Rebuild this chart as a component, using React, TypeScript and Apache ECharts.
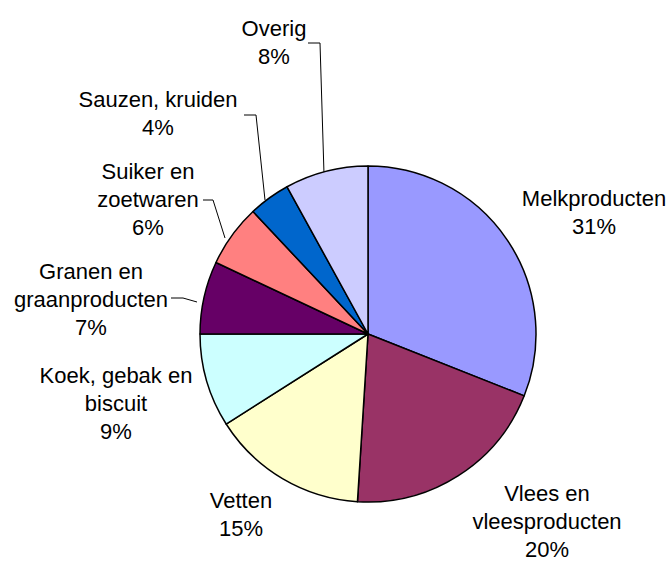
import React, { useEffect, useRef } from "react";
import * as echarts from "echarts";

const categories = [
  "Melkproducten",
  "Vlees en\nvleesproducten",
  "Vetten",
  "Koek, gebak en\nbiscuit",
  "Granen en\ngraanproducten",
  "Suiker en\nzoetwaren",
  "Sauzen, kruiden",
  "Overig",
];
const values = [31, 20, 15, 9, 7, 6, 4, 8];
const colors = ["#9999FF", "#993366", "#FFFFCC", "#CCFFFF", "#660066", "#FF8080", "#0066CC", "#CCCCFF"];

// label block centres and leader lines (layout only)
const labelPos: [number, number][] = [
  [594, 212],
  [547, 521],
  [241, 514],
  [116, 403],
  [91, 299],
  [148, 199],
  [158, 113],
  [274, 42],
];
const leaderLines: (number[][] | null)[] = [
  null,
  null,
  null,
  null,
  [[197, 302], [183, 298], [171, 298]],
  [[225, 238], [213, 200], [203, 200]],
  [[265, 200], [256, 115], [244, 115]],
  [[324, 174], [320, 43], [308, 43]],
];

export default function App() {
  const ref = useRef<HTMLDivElement>(null);
  useEffect(() => {
    document.body.style.margin = "0";
    const chart = echarts.init(ref.current!, null, { renderer: "svg" });
    chart.setOption({
      animation: false,
      backgroundColor: "#ffffff",
      series: [
        {
          type: "pie",
          center: [368, 334],
          radius: 168,
          startAngle: 90,
          clockwise: true,
          percentPrecision: 0,
          itemStyle: { borderColor: "#000", borderWidth: 1.5 },
          emphasis: { disabled: true },
          label: {
            show: true,
            formatter: "{b}\n{d}%",
            fontFamily: "Liberation Sans, Arial, sans-serif",
            fontSize: 22,
            lineHeight: 28,
            color: "#000",
            align: "center",
            overflow: "none",
          },
          labelLine: { show: true, lineStyle: { color: "#000", width: 1 } },
          labelLayout: (params: any) => {
            const i = params.dataIndex;
            const p = labelPos[i];
            const res: any = {
              x: p[0],
              y: p[1],
              align: "center",
              verticalAlign: "middle",
            };
            if (leaderLines[i]) res.labelLinePoints = leaderLines[i];
            return res;
          },
          data: categories.map((name, i) => ({
            name,
            value: values[i],
            itemStyle: { color: colors[i] },
            labelLine: { show: !!leaderLines[i] },
          })),
        },
      ],
    });
    return () => chart.dispose();
  }, []);
  return <div ref={ref} style={{ width: 672, height: 561 }} />;
}
